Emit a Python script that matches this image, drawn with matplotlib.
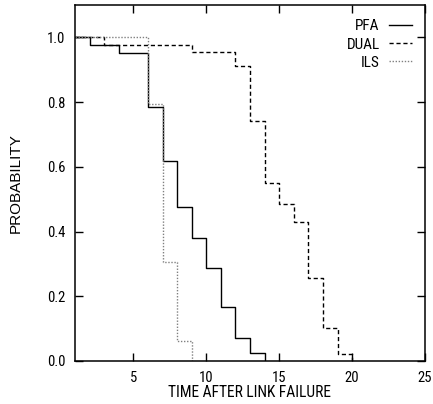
import matplotlib

matplotlib.use("Agg")
import matplotlib.pyplot as plt

# step data (value holds until the next time)
PFA_T = [1, 2, 4, 6, 7, 8, 9, 10, 11, 12, 13, 14]
PFA_P = [1.0, 0.976, 0.952, 0.786, 0.619, 0.476, 0.381, 0.286, 0.167, 0.071, 0.024, 0.0]

DUAL_T = [1, 3, 9, 12, 13, 14, 15, 16, 17, 18, 19, 20]
DUAL_P = [1.0, 0.976, 0.955, 0.91, 0.743, 0.55, 0.485, 0.43, 0.257, 0.102, 0.022, 0.0]

ILS_T = [1, 6, 7, 8, 9]
ILS_P = [1.0, 0.795, 0.307, 0.062, 0.0]

X_TICKS = [5, 10, 15, 20, 25]
Y_TICKS = [0.0, 0.2, 0.4, 0.6, 0.8, 1.0]

NARROW = ["Roboto Condensed", "Liberation Sans", "DejaVu Sans"]
REGULAR = ["Liberation Sans", "DejaVu Sans"]

plt.rcParams["font.family"] = NARROW

fig = plt.figure(figsize=(4.33, 4.04), dpi=100)
ax = fig.add_axes([75 / 433, 43 / 404, 350 / 433, 356 / 404])

ax.step(PFA_T, PFA_P, where="post", color="black", lw=1.0, label="PFA")
ax.step(DUAL_T, DUAL_P, where="post", color="black", lw=1.0,
        linestyle=(0, (3, 2)), label="DUAL")
ax.step(ILS_T, ILS_P, where="post", color="#808080", lw=1.0,
        linestyle=(0, (1, 1.2)), label="ILS")

ax.set_xlim(1, 25)
ax.set_ylim(0, 1.1)
ax.set_xticks(X_TICKS)
ax.set_yticks(Y_TICKS)
ax.set_yticklabels([f"{v:.1f}" for v in Y_TICKS])
ax.tick_params(direction="in", length=6, width=1.0, top=True, right=True,
               labelsize=10.5, pad=7)
for s in ax.spines.values():
    s.set_linewidth(1.1)

ax.set_xlabel("TIME AFTER LINK FAILURE", fontsize=11.2, labelpad=0.5)
ax.set_ylabel("PROBABILITY", fontsize=11, family=REGULAR)
ax.yaxis.set_label_coords(-0.149, 0.5)

ax.legend(loc="upper right", bbox_to_anchor=(0.993, 0.99), frameon=False,
          markerfirst=False, fontsize=11, handlelength=1.5,
          handletextpad=0.6, labelspacing=0.28, borderaxespad=0.3)

fig.savefig("out.png", dpi=100)
